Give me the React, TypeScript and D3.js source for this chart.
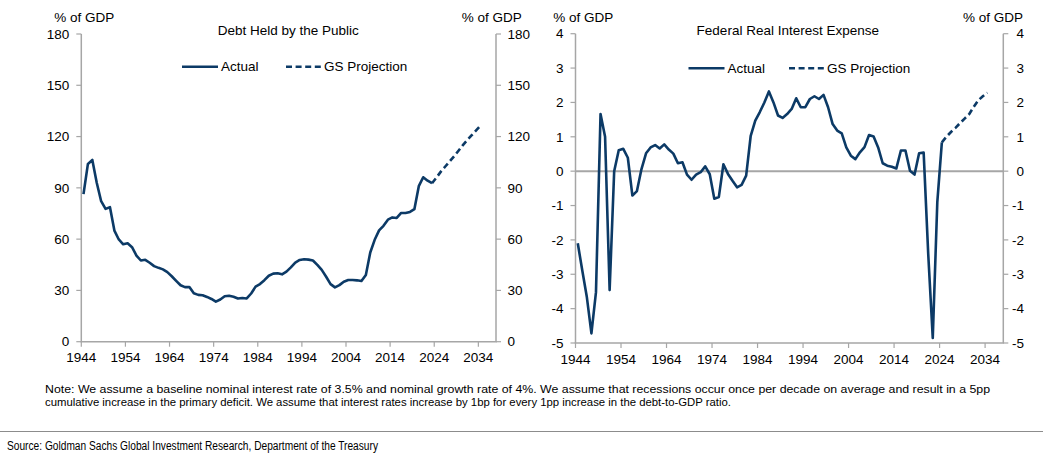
import React from 'react';
import * as d3 from 'd3';

// ---------- data ----------
const categoryStart = 1944;
const categoryEnd = 2037; // last (empty) category on the axis
const xTickYears = [1944, 1954, 1964, 1974, 1984, 1994, 2004, 2014, 2024, 2034];

const debtActualStart = 1944;
const debtActual = [
  86.3, 104, 106.3, 93, 82.2, 77.7, 78.7, 65, 59.8, 57,
  57.6, 55.3, 50.4, 47.5, 47.9, 46.2, 44.2, 43.2, 42.3, 40.7,
  38.3, 35.6, 33, 31.9, 32, 28.3, 27.4, 27.2, 26.2, 25,
  23.4, 24.7, 26.6, 26.9, 26.3, 25.3, 25.6, 25.3, 28.2, 32.2,
  33.7, 36, 38.6, 39.8, 40, 39.4, 41, 43.5, 46.3, 47.8,
  48.2, 48, 47.5, 44.9, 42, 38, 33.7, 31.8, 33.1, 35.1,
  36.1, 36.1, 35.9, 35.5, 39, 52.2, 59.6, 65.1, 67.8, 71.4,
  72.7, 72.4, 75.3, 75.3, 75.9, 77.5, 91, 96.2, 94.2, 92.7,
];
const debtProjStart = 2023;
const debtProjection = [92.7, 96, 99.5, 102.5, 105.5, 108.5, 111.7, 115, 118, 120.8, 123.6, 126.4];
const debtTicks = [0, 30, 60, 90, 120, 150, 180];

const interestActualStart = 1944;
const interestActual = [
  -2.1, -2.9, -3.67, -4.72, -3.52, 1.66, 1.0, -3.46, 0.0, 0.61,
  0.65, 0.39, -0.71, -0.58, 0.06, 0.52, 0.69, 0.76, 0.66, 0.78,
  0.63, 0.51, 0.23, 0.26, -0.1, -0.25, -0.1, -0.03, 0.14, -0.09,
  -0.8, -0.75, 0.2, -0.08, -0.28, -0.47, -0.4, -0.13, 1.03, 1.47,
  1.72, 2.0, 2.32, 2.0, 1.62, 1.55, 1.66, 1.81, 2.12, 1.86,
  1.86, 2.1, 2.18, 2.1, 2.22, 1.86, 1.37, 1.18, 1.1, 0.69,
  0.45, 0.35, 0.55, 0.7, 1.05, 1.01, 0.69, 0.23, 0.16, 0.13,
  0.08, 0.6, 0.6, 0.01, -0.1, 0.52, 0.54, -2.4, -4.85, -0.9,
  0.84,
];
const interestProjStart = 2024;
const interestProjection = [0.84, 1.0, 1.14, 1.26, 1.4, 1.53, 1.66, 1.87, 2.06, 2.18, 2.28];
const interestTicks = [-5, -4, -3, -2, -1, 0, 1, 2, 3, 4];

const unitLabel = '% of GDP';
const legendActual = 'Actual';
const legendProj = 'GS Projection';
const noteLines = [
  'Note: We assume a baseline nominal interest rate of 3.5% and nominal growth rate of 4%. We assume that recessions occur once per decade on average and result in a 5pp',
  'cumulative increase in the primary deficit. We assume that interest rates increase by 1bp for every 1pp increase in the debt-to-GDP ratio.',
];
const noteWidths = [945, 686];
const sourceText = 'Source: Goldman Sachs Global Investment Research, Department of the Treasury';

// ---------- style ----------
const FONT = "'Liberation Sans', Arial, sans-serif";
const NARROW = "'Liberation Sans Narrow', 'Arial Narrow', 'Liberation Sans', Arial, sans-serif";
const LINE = '#0c3a66';
const AXIS = '#a6a6a6';
const FS = 13.5;

type PanelProps = {
  x0: number; x1: number; yTop: number; yBot: number;
  domain: [number, number]; ticks: number[];
  actual: number[]; actualStart: number;
  proj: number[]; projStart: number;
  title: string; titleX: number;
  leftUnitX: number; rightUnitX: number;
  legendY: number; legendX: number; legendProjX: number;
  rightAnchorEnd: boolean; rightLabelX: number;
  zeroLine: boolean;
};

function Panel(p: PanelProps) {
  const x = d3.scaleBand<number>()
    .domain(d3.range(categoryStart, categoryEnd + 1))
    .range([p.x0, p.x1])
    .paddingInner(0).paddingOuter(0);
  const bw = x.bandwidth();
  const y = d3.scaleLinear().domain(p.domain).range([p.yBot, p.yTop]);
  const line = d3.line<[number, number]>()
    .x(d => (x(d[0]) as number) + bw / 2)
    .y(d => y(d[1]));
  const aPts: [number, number][] = p.actual.map((v, i) => [p.actualStart + i, v]);
  const pPts: [number, number][] = p.proj.map((v, i) => [p.projStart + i, v]);
  const dash = '6 3.6';
  const base = y(p.domain[0]);
  return (
    <g>
      {/* unit labels */}
      <text x={p.leftUnitX} y={21.7} fontSize={FS} fontFamily={FONT}>{unitLabel}</text>
      <text x={p.rightUnitX} y={21.7} fontSize={FS} fontFamily={FONT}>{unitLabel}</text>
      <text x={p.titleX} y={35.3} fontSize={FS} fontFamily={FONT} textAnchor="middle">{p.title}</text>
      {/* zero line */}
      {p.zeroLine && (
        <line x1={p.x0} x2={p.x1} y1={y(0)} y2={y(0)} stroke={AXIS} strokeWidth={2} />
      )}
      {/* axes */}
      <line x1={p.x0} x2={p.x0} y1={p.yTop} y2={base} stroke={AXIS} strokeWidth={1.5} />
      <line x1={p.x1} x2={p.x1} y1={p.yTop} y2={base} stroke={AXIS} strokeWidth={1.5} />
      <line x1={p.x0 - 0.75} x2={p.x1 + 0.75} y1={base} y2={base} stroke={AXIS} strokeWidth={1.5} />
      {p.ticks.map(t => (
        <g key={t}>
          <line x1={p.x0 - 5} x2={p.x0} y1={y(t)} y2={y(t)} stroke={AXIS} strokeWidth={1.2} />
          <line x1={p.x1} x2={p.x1 + 5} y1={y(t)} y2={y(t)} stroke={AXIS} strokeWidth={1.2} />
          <text x={p.x0 - 12} y={y(t)} dy="0.35em" fontSize={FS} fontFamily={FONT} textAnchor="end">{t}</text>
          <text x={p.rightLabelX} y={y(t)} dy="0.35em" fontSize={FS} fontFamily={FONT}
            textAnchor={p.rightAnchorEnd ? 'end' : 'start'}>{t}</text>
        </g>
      ))}
      {xTickYears.map(yr => (
        <g key={yr}>
          <line x1={x(yr) as number} x2={x(yr) as number} y1={base} y2={base + 5} stroke={AXIS} strokeWidth={1.2} />
          <text x={x(yr) as number} y={base + 20.5} fontSize={FS} fontFamily={FONT} textAnchor="middle">{yr}</text>
        </g>
      ))}
      {/* series */}
      <path d={line(aPts) || ''} fill="none" stroke={LINE} strokeWidth={2.6} strokeLinejoin="round" />
      <path d={line(pPts) || ''} fill="none" stroke={LINE} strokeWidth={2.6} strokeDasharray={dash} />
      {/* legend */}
      <line x1={p.legendX} x2={p.legendX + 36} y1={p.legendY} y2={p.legendY} stroke={LINE} strokeWidth={2.6} />
      <text x={p.legendX + 39} y={p.legendY} dy="0.35em" fontSize={FS} fontFamily={FONT}>{legendActual}</text>
      <line x1={p.legendProjX} x2={p.legendProjX + 36} y1={p.legendY} y2={p.legendY} stroke={LINE} strokeWidth={2.6} strokeDasharray={dash} />
      <text x={p.legendProjX + 38} y={p.legendY} dy="0.35em" fontSize={FS} fontFamily={FONT}>{legendProj}</text>
    </g>
  );
}

export default function App() {
  return (
    <svg width={1043} height={468} style={{ position: 'absolute', left: 0, top: 0, background: '#fff' }}>
      <rect width={1043} height={468} fill="#fff" />
      <Panel
        x0={81.3} x1={496} yTop={34} yBot={341.7}
        domain={[0, 180]} ticks={debtTicks}
        actual={debtActual} actualStart={debtActualStart}
        proj={debtProjection} projStart={debtProjStart}
        title="Debt Held by the Public" titleX={288.3}
        leftUnitX={54.3} rightUnitX={461.7}
        legendY={66.7} legendX={182} legendProjX={286}
        rightAnchorEnd={false} rightLabelX={507.5}
        zeroLine={false}
      />
      <Panel
        x0={575.5} x1={1003.3} yTop={33.7} yBot={343}
        domain={[-5, 4]} ticks={interestTicks}
        actual={interestActual} actualStart={interestActualStart}
        proj={interestProjection} projStart={interestProjStart}
        title="Federal Real Interest Expense" titleX={787.8}
        leftUnitX={553.3} rightUnitX={963}
        legendY={68.3} legendX={688.5} legendProjX={789}
        rightAnchorEnd={true} rightLabelX={1024}
        zeroLine={true}
      />
      {noteLines.map((t, i) => (
        <text key={i} x={45} y={392.5 + i * 13} fontSize={11.6} fontFamily={FONT}
          textLength={noteWidths[i]} lengthAdjust="spacingAndGlyphs">{t}</text>
      ))}
      <line x1={0} x2={1043} y1={431.5} y2={431.5} stroke="#8c8c8c" strokeWidth={1} />
      <text x={7} y={449.5} fontSize={12} fontFamily={NARROW} textLength={371} lengthAdjust="spacingAndGlyphs">{sourceText}</text>
    </svg>
  );
}
